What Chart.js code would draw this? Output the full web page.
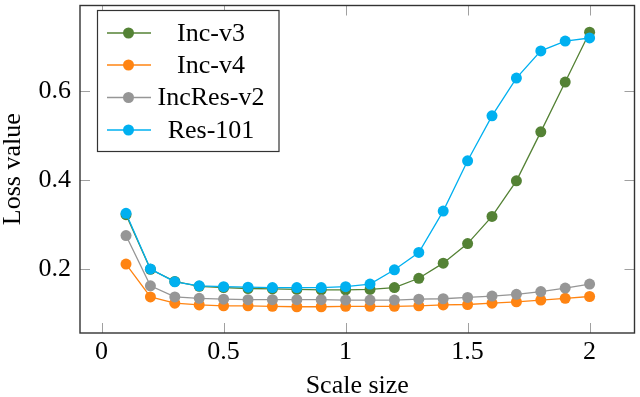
<!DOCTYPE html>
<html>
<head>
<meta charset="utf-8">
<script src="https://cdn.jsdelivr.net/npm/chart.js@4/dist/chart.umd.min.js"></script>
<style>
  body { margin: 0; background: #fff; }
  #wrap { width: 640px; height: 397px; }
</style>
</head>
<body>
<div id="wrap"><canvas id="lossChart"></canvas></div>
<script>
const scaleSizes = [0.1, 0.2, 0.3, 0.4, 0.5, 0.6, 0.7, 0.8, 0.9, 1.0, 1.1, 1.2, 1.3, 1.4, 1.5, 1.6, 1.7, 1.8, 1.9, 2.0];
const incV3 = [0.323, 0.200, 0.173, 0.162, 0.159, 0.157, 0.156, 0.155, 0.154, 0.154, 0.155, 0.159, 0.180, 0.214, 0.258, 0.319, 0.399, 0.509, 0.621, 0.733];
const incV4 = [0.212, 0.138, 0.124, 0.120, 0.118, 0.118, 0.117, 0.116, 0.116, 0.117, 0.117, 0.117, 0.118, 0.120, 0.121, 0.124, 0.127, 0.131, 0.135, 0.139];
const incResV2 = [0.276, 0.163, 0.138, 0.135, 0.133, 0.132, 0.132, 0.132, 0.132, 0.131, 0.131, 0.131, 0.133, 0.134, 0.137, 0.140, 0.144, 0.150, 0.158, 0.167];
const res101 = [0.326, 0.201, 0.172, 0.163, 0.161, 0.160, 0.159, 0.159, 0.159, 0.161, 0.167, 0.199, 0.238, 0.331, 0.444, 0.545, 0.630, 0.691, 0.713, 0.720];

const xTickValues = [0, 0.5, 1, 1.5, 2];
const yTickValues = [0.2, 0.4, 0.6];

const FONT = "'Liberation Serif', 'Times New Roman', serif";
const FONT_SIZE = 26;

function toPoints(values) {
  return scaleSizes.map((s, i) => ({ x: s, y: values[i] }));
}

function makeDataset(label, values, color, order) {
  return {
    label: label,
    data: toPoints(values),
    borderColor: color,
    backgroundColor: color,
    pointBackgroundColor: color,
    pointBorderWidth: 0,
    pointRadius: 5.5,
    borderWidth: 1.3,
    tension: 0,
    order: order
  };
}

// frame, inward ticks and the boxed legend, pgfplots style
const framePlugin = {
  id: 'frame',
  afterDatasetsDraw(chart) {
    const { ctx, chartArea: a, scales } = chart;
    ctx.save();
    ctx.strokeStyle = '#a0a0a0';
    ctx.lineWidth = 1;
    ctx.beginPath();
    for (const v of xTickValues) {
      const px = Math.round(scales.x.getPixelForValue(v)) + 0.5;
      ctx.moveTo(px, a.bottom); ctx.lineTo(px, a.bottom - 10);
      ctx.moveTo(px, a.top); ctx.lineTo(px, a.top + 10);
    }
    for (const v of yTickValues) {
      const py = Math.round(scales.y.getPixelForValue(v)) + 0.5;
      ctx.moveTo(a.left, py); ctx.lineTo(a.left + 10, py);
      ctx.moveTo(a.right, py); ctx.lineTo(a.right - 10, py);
    }
    ctx.stroke();

    ctx.strokeStyle = '#333';
    ctx.lineWidth = 1.4;
    ctx.strokeRect(a.left, a.top, a.right - a.left, a.bottom - a.top);

    // legend
    const box = { x: 97.5, y: 10.5, w: 181.5, h: 141 };
    ctx.fillStyle = '#fff';
    ctx.fillRect(box.x, box.y, box.w, box.h);
    ctx.strokeStyle = '#333';
    ctx.lineWidth = 1.2;
    ctx.strokeRect(box.x, box.y, box.w, box.h);
    const rows = [33, 65, 97.5, 130];
    chart.data.datasets.forEach((ds, i) => {
      const y = rows[i];
      ctx.strokeStyle = ds.borderColor;
      ctx.lineWidth = 1.3;
      ctx.beginPath();
      ctx.moveTo(107, y); ctx.lineTo(151, y);
      ctx.stroke();
      ctx.fillStyle = ds.borderColor;
      ctx.beginPath();
      ctx.arc(128.5, y, 5.5, 0, Math.PI * 2);
      ctx.fill();
      ctx.fillStyle = '#000';
      ctx.font = FONT_SIZE + 'px ' + FONT;
      ctx.textAlign = 'center';
      ctx.textBaseline = 'middle';
      ctx.fillText(ds.label, 211, y + 1);
    });
    ctx.restore();
  }
};

new Chart(document.getElementById('lossChart'), {
  type: 'line',
  data: {
    datasets: [
      makeDataset('Inc-v3', incV3, '#548235', 4),
      makeDataset('Inc-v4', incV4, '#ff8412', 3),
      makeDataset('IncRes-v2', incResV2, '#969696', 2),
      makeDataset('Res-101', res101, '#00b0f0', 1)
    ]
  },
  options: {
    responsive: true,
    maintainAspectRatio: false,
    animation: false,
    layout: { padding: { top: 1, right: 3, left: 0, bottom: 0 } },
    plugins: {
      legend: { display: false },
      tooltip: { enabled: false }
    },
    scales: {
      x: {
        type: 'linear',
        min: -0.0886,
        max: 2.184,
        afterBuildTicks: (scale) => { scale.ticks = xTickValues.map(v => ({ value: v })); },
        afterFit: (scale) => {
          scale.height = 64;
          scale.paddingLeft = 0;
          scale.paddingRight = 0;
        },
        grid: { display: false, drawTicks: false },
        border: { display: false },
        ticks: {
          padding: 4,
          maxRotation: 0,
          color: '#000',
          font: { family: FONT, size: FONT_SIZE },
          callback: (v) => String(v)
        },
        title: {
          display: true,
          text: 'Scale size',
          color: '#000',
          font: { family: FONT, size: FONT_SIZE, lineHeight: 1 },
          padding: { top: 0, bottom: -2 }
        }
      },
      y: {
        min: 0.057,
        max: 0.793,
        afterBuildTicks: (scale) => { scale.ticks = yTickValues.map(v => ({ value: v })); },
        afterFit: (scale) => {
          scale.width = 80;
          scale.paddingTop = 0;
          scale.paddingBottom = 0;
        },
        grid: { display: false, drawTicks: false },
        border: { display: false },
        ticks: {
          padding: 9,
          color: '#000',
          font: { family: FONT, size: FONT_SIZE },
          callback: (v) => v.toFixed(1)
        },
        title: {
          display: true,
          text: 'Loss value',
          color: '#000',
          font: { family: FONT, size: FONT_SIZE, lineHeight: 1 },
          padding: { top: 0, bottom: 0 }
        }
      }
    }
  },
  plugins: [framePlugin]
});
</script>
</body>
</html>
